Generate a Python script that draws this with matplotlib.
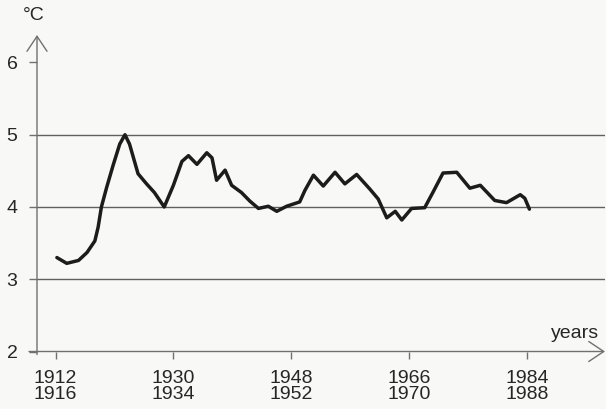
import matplotlib
matplotlib.use("Agg")
import matplotlib.pyplot as plt

plt.rcParams['font.family'] = ['Liberation Sans', 'DejaVu Sans']

# Smoothed mean temperature series
years = [1912.2, 1913.7, 1915.5, 1916.8, 1918.0, 1918.5, 1919.0, 1919.8, 1920.8,
         1921.8, 1922.6, 1923.3, 1924.6, 1925.9, 1927.1, 1928.6, 1930.0, 1931.3,
         1932.3, 1933.6, 1935.1, 1935.9, 1936.6, 1937.9, 1938.9, 1940.4, 1941.7,
         1943.0, 1944.5, 1945.8, 1947.3, 1949.3, 1950.1, 1951.4, 1952.9, 1954.7,
         1956.2, 1958.0, 1960.0, 1961.3, 1962.6, 1963.9, 1964.9, 1966.4, 1968.4,
         1969.7, 1971.2, 1973.3, 1975.3, 1976.9, 1979.1, 1980.9, 1983.0, 1983.7,
         1984.4]
temps = [3.30, 3.22, 3.26, 3.37, 3.53, 3.72, 4.00, 4.27, 4.58,
         4.87, 5.00, 4.87, 4.46, 4.32, 4.20, 4.00, 4.30, 4.63,
         4.71, 4.59, 4.75, 4.68, 4.37, 4.51, 4.30, 4.20, 4.08,
         3.98, 4.01, 3.94, 4.01, 4.07, 4.23, 4.44, 4.29, 4.48,
         4.32, 4.45, 4.25, 4.11, 3.85, 3.94, 3.82, 3.98, 3.99,
         4.21, 4.47, 4.48, 4.26, 4.30, 4.09, 4.06, 4.17, 4.12,
         3.97]

xtick_pos = [1912, 1930, 1948, 1966, 1984]
xtick_labels = ["1912\n1916", "1930\n1934", "1948\n1952", "1966\n1970", "1984\n1988"]
ytick_pos = [2, 3, 4, 5, 6]
grid_levels = [3, 4, 5]

bg = '#f8f8f6'
axis_col = '#707070'
grid_col = '#606060'
text_col = '#262626'

fig = plt.figure(figsize=(6.06, 4.09), dpi=100, facecolor=bg)
ax = fig.add_axes([37 / 606, 57.5 / 409, 568 / 606, 316.5 / 409])
ax.set_facecolor(bg)
ax.set_xlim(1909.16, 1995.95)
ax.set_ylim(2, 6.38)

for s in ax.spines.values():
    s.set_visible(False)

for lv in grid_levels:
    ax.axhline(lv, color=grid_col, lw=1.0, zorder=1)

ax.plot(years, temps, color='#1c1c1c', lw=2.5, solid_joinstyle='round',
        solid_capstyle='round', zorder=3)

# axes drawn as arrows
arrow = dict(arrowstyle='->,head_length=0.9,head_width=0.6', color=axis_col,
             lw=1.0, mutation_scale=12, shrinkA=0, shrinkB=0)
ax.annotate('', xy=(1, 0), xytext=(-8 / 568, 0), xycoords='axes fraction',
            arrowprops=arrow, annotation_clip=False)
ax.annotate('', xy=(0, 1), xytext=(0, -3 / 316), xycoords='axes fraction',
            arrowprops=arrow, annotation_clip=False)

ax.set_xticks(xtick_pos)
ax.set_xticklabels(xtick_labels, fontsize=14, color=text_col, linespacing=0.92)
ax.set_yticks(ytick_pos)
ax.set_yticklabels([str(v) for v in ytick_pos], fontsize=14, color=text_col)
ax.tick_params(axis='x', direction='out', length=5, width=1.0, color=axis_col, pad=8)
ax.tick_params(axis='y', direction='out', length=6, width=1.0, color=axis_col, pad=8)

fig.text(34 / 606, 1 - 15 / 409, '°C', fontsize=14, color=text_col,
         ha='center', va='center')
fig.text(575 / 606, 1 - 333 / 409, 'years', fontsize=14, color=text_col,
         ha='center', va='center')

fig.savefig('out.png', dpi=100, facecolor=bg)
